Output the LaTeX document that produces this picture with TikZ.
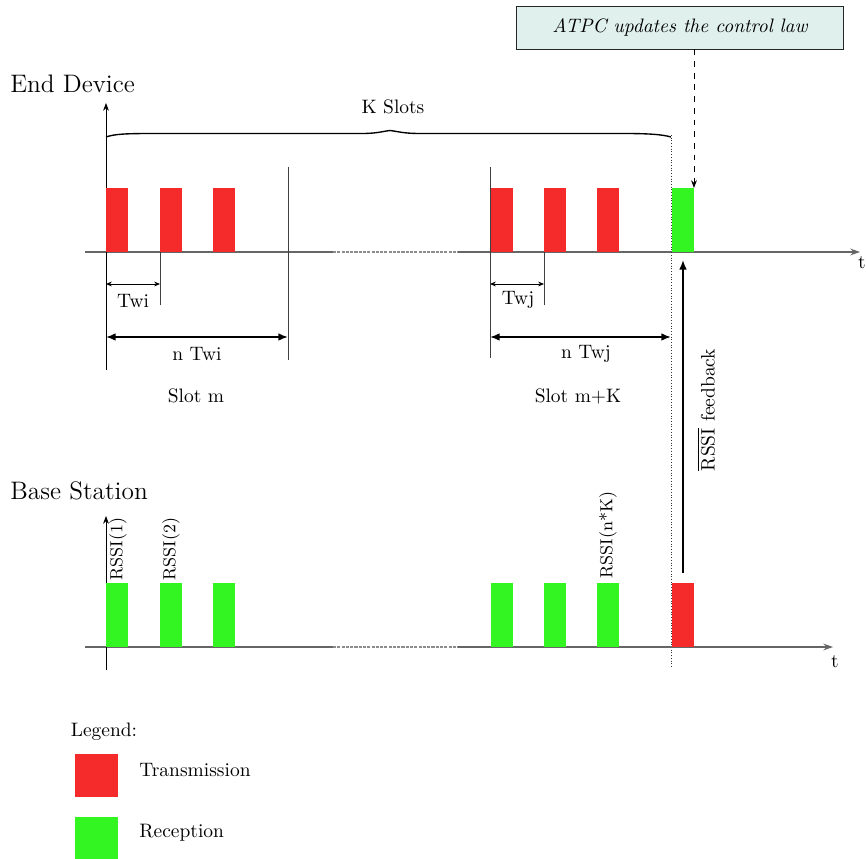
\documentclass[tikz,border=0pt]{standalone}
\usetikzlibrary{arrows.meta}
\definecolor{txred}{RGB}{245,42,42}
\definecolor{rxgreen}{RGB}{51,245,34}
\definecolor{boxfill}{RGB}{224,240,237}
\begin{document}
\begin{tikzpicture}[x=0.514pt,y=-0.514pt,
  axis/.style={draw=black!60, line width=0.7pt},
  gapaxis/.style={draw=black!45, line width=0.7pt, dash pattern=on 1.6pt off 0.6pt},
  vaxis/.style={draw=black, line width=0.5pt, -{Stealth[length=4pt,width=3pt]}},
  marker/.style={draw=black!75, line width=0.5pt},
  bar/.style={inner sep=0pt, outer sep=0pt, minimum width=11.3pt, minimum height=32.9pt, anchor=south west},
  legbox/.style={inner sep=0pt, outer sep=0pt, minimum width=22.1pt, minimum height=22.1pt, anchor=north west},
  small arrow/.style={draw=black, line width=0.4pt, {Stealth[length=3pt,width=2.5pt]}-{Stealth[length=3pt,width=2.5pt]}},
  big arrow/.style={draw=black, line width=0.9pt, {Latex[length=5pt,width=4pt]}-{Latex[length=5pt,width=4pt]}},
  lbl/.style={inner sep=0pt, font=\normalsize},
  rlbl/.style={inner sep=0pt, rotate=90, anchor=west, font=\small}]
\useasboundingbox (0,0) rectangle (866,859);

% ---------- titles
\node[lbl, anchor=west, font=\fontsize{13}{15}\selectfont] (edt) at (10,84) {End Device};
\node[lbl, anchor=west, font=\fontsize{13}{15}\selectfont] (bst) at (10,491) {Base Station};

% ---------- End device axes
\coordinate (eL) at (85,252);
\coordinate (eD1) at (333,252);
\coordinate (eD2) at (458,252);
\coordinate (eR) at (860,252);
\draw[axis] (eL) -- (eD1);
\draw[gapaxis] (eD1) -- (eD2);
\draw[axis, -{Stealth[length=5pt,width=3.5pt]}] (eD2) -- (eR);
\node[lbl] (et) at (862,263) {t};
\coordinate (eyB) at (106,370);
\coordinate (eyT) at (106,103);
\draw[vaxis] (eyB) -- (eyT);

% ---------- End device bars
\node[bar, fill=txred] (e1) at (106,252) {};
\node[bar, fill=txred] (e2) at (160,252) {};
\node[bar, fill=txred] (e3) at (213,252) {};
\node[bar, fill=txred] (e4) at (491,252) {};
\node[bar, fill=txred] (e5) at (544,252) {};
\node[bar, fill=txred] (e6) at (597,252) {};
\node[bar, fill=rxgreen] (e7) at (672,252) {};

% ---------- slot separators
\coordinate (s1T) at (288,167); \coordinate (s1B) at (288,360);
\coordinate (s2T) at (490,167); \coordinate (s2B) at (490,358);
\draw[marker] (s1T) -- (s1B);
\draw[marker] (s2T) -- (s2B);

% ---------- Twi / Twj
\coordinate (ti1) at (160,252); \coordinate (ti2) at (160,305);
\draw[marker] (ti1) -- (ti2);
\coordinate (tia) at (106,284); \coordinate (tib) at (160,284);
\draw[small arrow] (tia) -- (tib);
\node[lbl] (twi) at (133,301) {Twi};

\coordinate (tj1) at (544,252); \coordinate (tj2) at (544,305);
\draw[marker] (tj1) -- (tj2);
\coordinate (tja) at (490,284); \coordinate (tjb) at (544,284);
\draw[small arrow] (tja) -- (tjb);
\node[lbl] (twj) at (518,300) {Twj};

% ---------- n Twi / n Twj
\coordinate (nia) at (106,337); \coordinate (nib) at (288,337);
\draw[big arrow] (nia) -- (nib);
\node[lbl] (ntwi) at (197,354) {n Twi};
\coordinate (nja) at (490,337); \coordinate (njb) at (671,337);
\draw[big arrow] (nja) -- (njb);
\node[lbl] (ntwj) at (586,354) {n Twj};

\node[lbl] (slm) at (196,396) {Slot m};
\node[lbl] (slk) at (578,396) {Slot m+K};

% ---------- brace (flat, stretched)
\coordinate (brL) at (106,137); \coordinate (brR) at (671,137);
\draw[line width=0.7pt] (brL) .. controls (115,134) and (125,133.5) .. (155,133.5)
  -- (362,133.5) .. controls (378,133.5) and (384,131) .. (390,130.5)
  .. controls (396,131) and (402,133.5) .. (420,133.5)
  -- (622,133.5) .. controls (650,133.5) and (662,134.5) .. (brR);
\node[lbl] (ks) at (393,107) {K Slots};

% ---------- dotted separator
\coordinate (dT) at (671,135); \coordinate (dB) at (671,668);
\draw[black!80, line width=0.4pt, densely dotted] (dT) -- (dB);

% ---------- ATPC box
\node[draw=black!85, fill=boxfill, line width=0.5pt, minimum width=167.6pt, minimum height=22.1pt, inner sep=0pt] (atpc) at (680,27.5) {\itshape ATPC updates the control law};
\draw[dashed, line width=0.5pt, -{Stealth[length=4pt,width=3pt]}] (atpc.south -| e7.north east) -- (e7.north east);

% ---------- Base station axes
\coordinate (bL) at (85,647);
\coordinate (bD1) at (333,647);
\coordinate (bD2) at (458,647);
\coordinate (bR) at (833,647);
\draw[axis] (bL) -- (bD1);
\draw[gapaxis] (bD1) -- (bD2);
\draw[axis, -{Stealth[length=5pt,width=3.5pt]}] (bD2) -- (bR);
\node[lbl] (bt) at (835,662) {t};
\coordinate (byB) at (106,670);
\coordinate (byT) at (106,516);
\draw[vaxis] (byB) -- (byT);

% ---------- Base station bars
\node[bar, fill=rxgreen] (b1) at (106,647) {};
\node[bar, fill=rxgreen] (b2) at (160,647) {};
\node[bar, fill=rxgreen] (b3) at (213,647) {};
\node[bar, fill=rxgreen] (b4) at (491,647) {};
\node[bar, fill=rxgreen] (b5) at (544,647) {};
\node[bar, fill=rxgreen] (b6) at (597,647) {};
\node[bar, fill=txred] (b7) at (672,647) {};

\node[rlbl] (r1) at (118,581) {RSSI(1)};
\node[rlbl] (r2) at (171,581) {RSSI(2)};
\node[rlbl] (rn) at (608,579) {RSSI(n*K)};

% ---------- feedback arrow
\coordinate (fbB) at (683,573); \coordinate (fbT) at (683,260);
\draw[line width=0.8pt, -{Latex[length=5pt,width=4pt]}] (fbB) -- (fbT);
\node[lbl, rotate=90] (fbl) at (706,410) {$\overline{\mbox{RSSI}}$ feedback};

% ---------- legend
\node[lbl] (leg) at (104,732) {Legend:};
\node[legbox, fill=txred] (l1) at (75,754) {};
\node[legbox, fill=rxgreen] (l2) at (75,817) {};
\node[lbl, anchor=west] (lt1) at (139,770) {Transmission};
\node[lbl, anchor=west] (lt2) at (139,833) {Reception};
\end{tikzpicture}
\end{document}
